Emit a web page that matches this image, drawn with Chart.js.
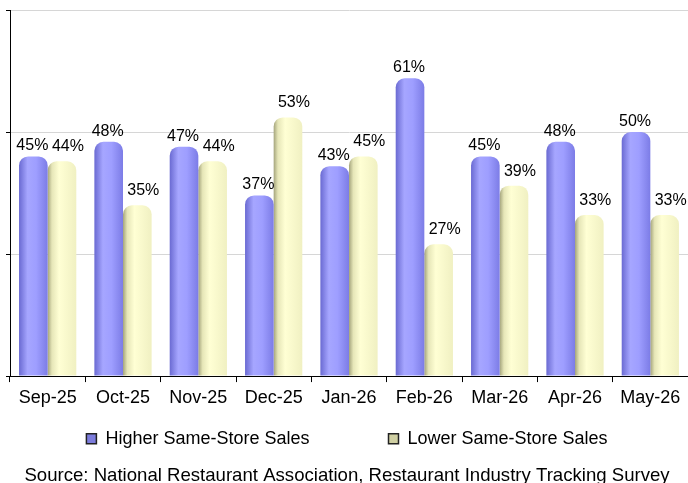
<!DOCTYPE html>
<html>
<head>
<meta charset="utf-8">
<script src="https://cdn.jsdelivr.net/npm/chart.js@4.4.1/dist/chart.umd.min.js"></script>
<style>
  html, body { margin: 0; padding: 0; background: #fff; }
  #wrap { width: 688px; height: 483px; }
</style>
</head>
<body>
<div id="wrap"><canvas id="salesChart"></canvas></div>
<script>
const months = ['Sep-25', 'Oct-25', 'Nov-25', 'Dec-25', 'Jan-26', 'Feb-26', 'Mar-26', 'Apr-26', 'May-26'];
const higherSales = [45, 48, 47, 37, 43, 61, 45, 48, 50];
const lowerSales = [44, 35, 44, 53, 45, 27, 39, 33, 33];
const seriesNames = ['Higher Same-Store Sales', 'Lower Same-Store Sales'];
const yTicks = [0, 25, 50, 75];
const sourceNote = 'Source: National Restaurant Association, Restaurant Industry Tracking Survey';

const FONT = '"Liberation Sans", Arial, sans-serif';
const CAT_PCT = 0.76;

// horizontal shading so the bars look like the rounded excel columns
function barGradient(stops, fallback) {
    return function (context) {
        const chart = context.chart;
        const xScale = chart.scales.x;
        if (!xScale || context.type !== 'data') return fallback;
        const center = xScale.getPixelForValue(context.dataIndex);
        const barWidth = (xScale.width / months.length) * CAT_PCT / 2;
        const left = context.datasetIndex === 0 ? center - barWidth : center;
        const g = chart.ctx.createLinearGradient(left, 0, left + barWidth, 0);
        stops.forEach(([o, c]) => g.addColorStop(o, c));
        return g;
    };
}

const blueStops = [[0, '#6a6ad2'], [0.3, '#a6a6ff'], [0.6, '#9e9eff'], [1, '#7c7ce6']];
const yellowStops = [[0, '#a4a47c'], [0.15, '#e6e6b8'], [0.4, '#ffffd4'], [1, '#f0f0c2']];

// value labels above the bars, lower series nudged right like excel does
const valueLabels = {
    id: 'valueLabels',
    afterDatasetsDraw(chart) {
        const ctx = chart.ctx;
        ctx.save();
        ctx.font = '16px ' + FONT;
        ctx.fillStyle = '#000';
        ctx.textAlign = 'center';
        ctx.textBaseline = 'alphabetic';
        chart.data.datasets.forEach((ds, i) => {
            chart.getDatasetMeta(i).data.forEach((bar, j) => {
                const dx = i === 0 ? -1 : 6;
                const dy = i === 0 ? 6 : 10;
                ctx.fillText(ds.data[j] + '%', bar.x + dx, bar.y - dy);
            });
        });
        ctx.restore();
    }
};

const ctx = document.getElementById('salesChart').getContext('2d');
new Chart(ctx, {
    type: 'bar',
    data: {
        labels: months,
        datasets: [{
            label: seriesNames[0],
            data: higherSales,
            backgroundColor: barGradient(blueStops, '#9999ff'),
            borderRadius: 9,
            borderSkipped: 'start',
            categoryPercentage: CAT_PCT,
            barPercentage: 1.0
        }, {
            label: seriesNames[1],
            data: lowerSales,
            backgroundColor: barGradient(yellowStops, '#ffffcc'),
            borderRadius: 9,
            borderSkipped: 'start',
            categoryPercentage: CAT_PCT,
            barPercentage: 1.0
        }]
    },
    options: {
        responsive: true,
        maintainAspectRatio: false,
        animation: false,
        layout: { padding: { left: 6, top: 10, right: 0, bottom: 0 } },
        scales: {
            x: {
                grid: { drawOnChartArea: false, color: '#000', tickLength: 6 },
                border: { color: '#000' },
                ticks: { color: '#000', font: { size: 18, family: FONT }, padding: 5, maxRotation: 0 }
            },
            y: {
                min: 0,
                max: 75,
                afterBuildTicks: scale => { scale.ticks = yTicks.map(v => ({ value: v })); },
                ticks: { display: false },
                grid: {
                    color: c => c.tick.value === 0 ? '#000' : '#d6d6d6',
                    tickColor: '#000',
                    tickLength: 4
                },
                border: { color: '#000' }
            }
        },
        plugins: {
            legend: {
                position: 'bottom',
                labels: {
                    color: '#000',
                    font: { size: 18, family: FONT },
                    boxWidth: 10,
                    boxHeight: 10,
                    padding: 16,
                    generateLabels: chart => chart.data.datasets.map((ds, i) => ({
                        text: i === 0 ? ds.label + '\u2003\u2003\u2003\u2002' : ds.label,
                        fillStyle: i === 0 ? '#7c7cdc' : '#cfcfa2',
                        strokeStyle: '#222',
                        lineWidth: 1.5,
                        datasetIndex: i,
                        hidden: false
                    }))
                }
            },
            title: {
                display: true,
                position: 'bottom',
                text: sourceNote,
                color: '#000',
                font: { size: 18.6, weight: 'normal', family: FONT, lineHeight: 1.2 },
                padding: { top: 7, bottom: -4 }
            },
            tooltip: { enabled: false }
        }
    },
    plugins: [valueLabels]
});
</script>
</body>
</html>
